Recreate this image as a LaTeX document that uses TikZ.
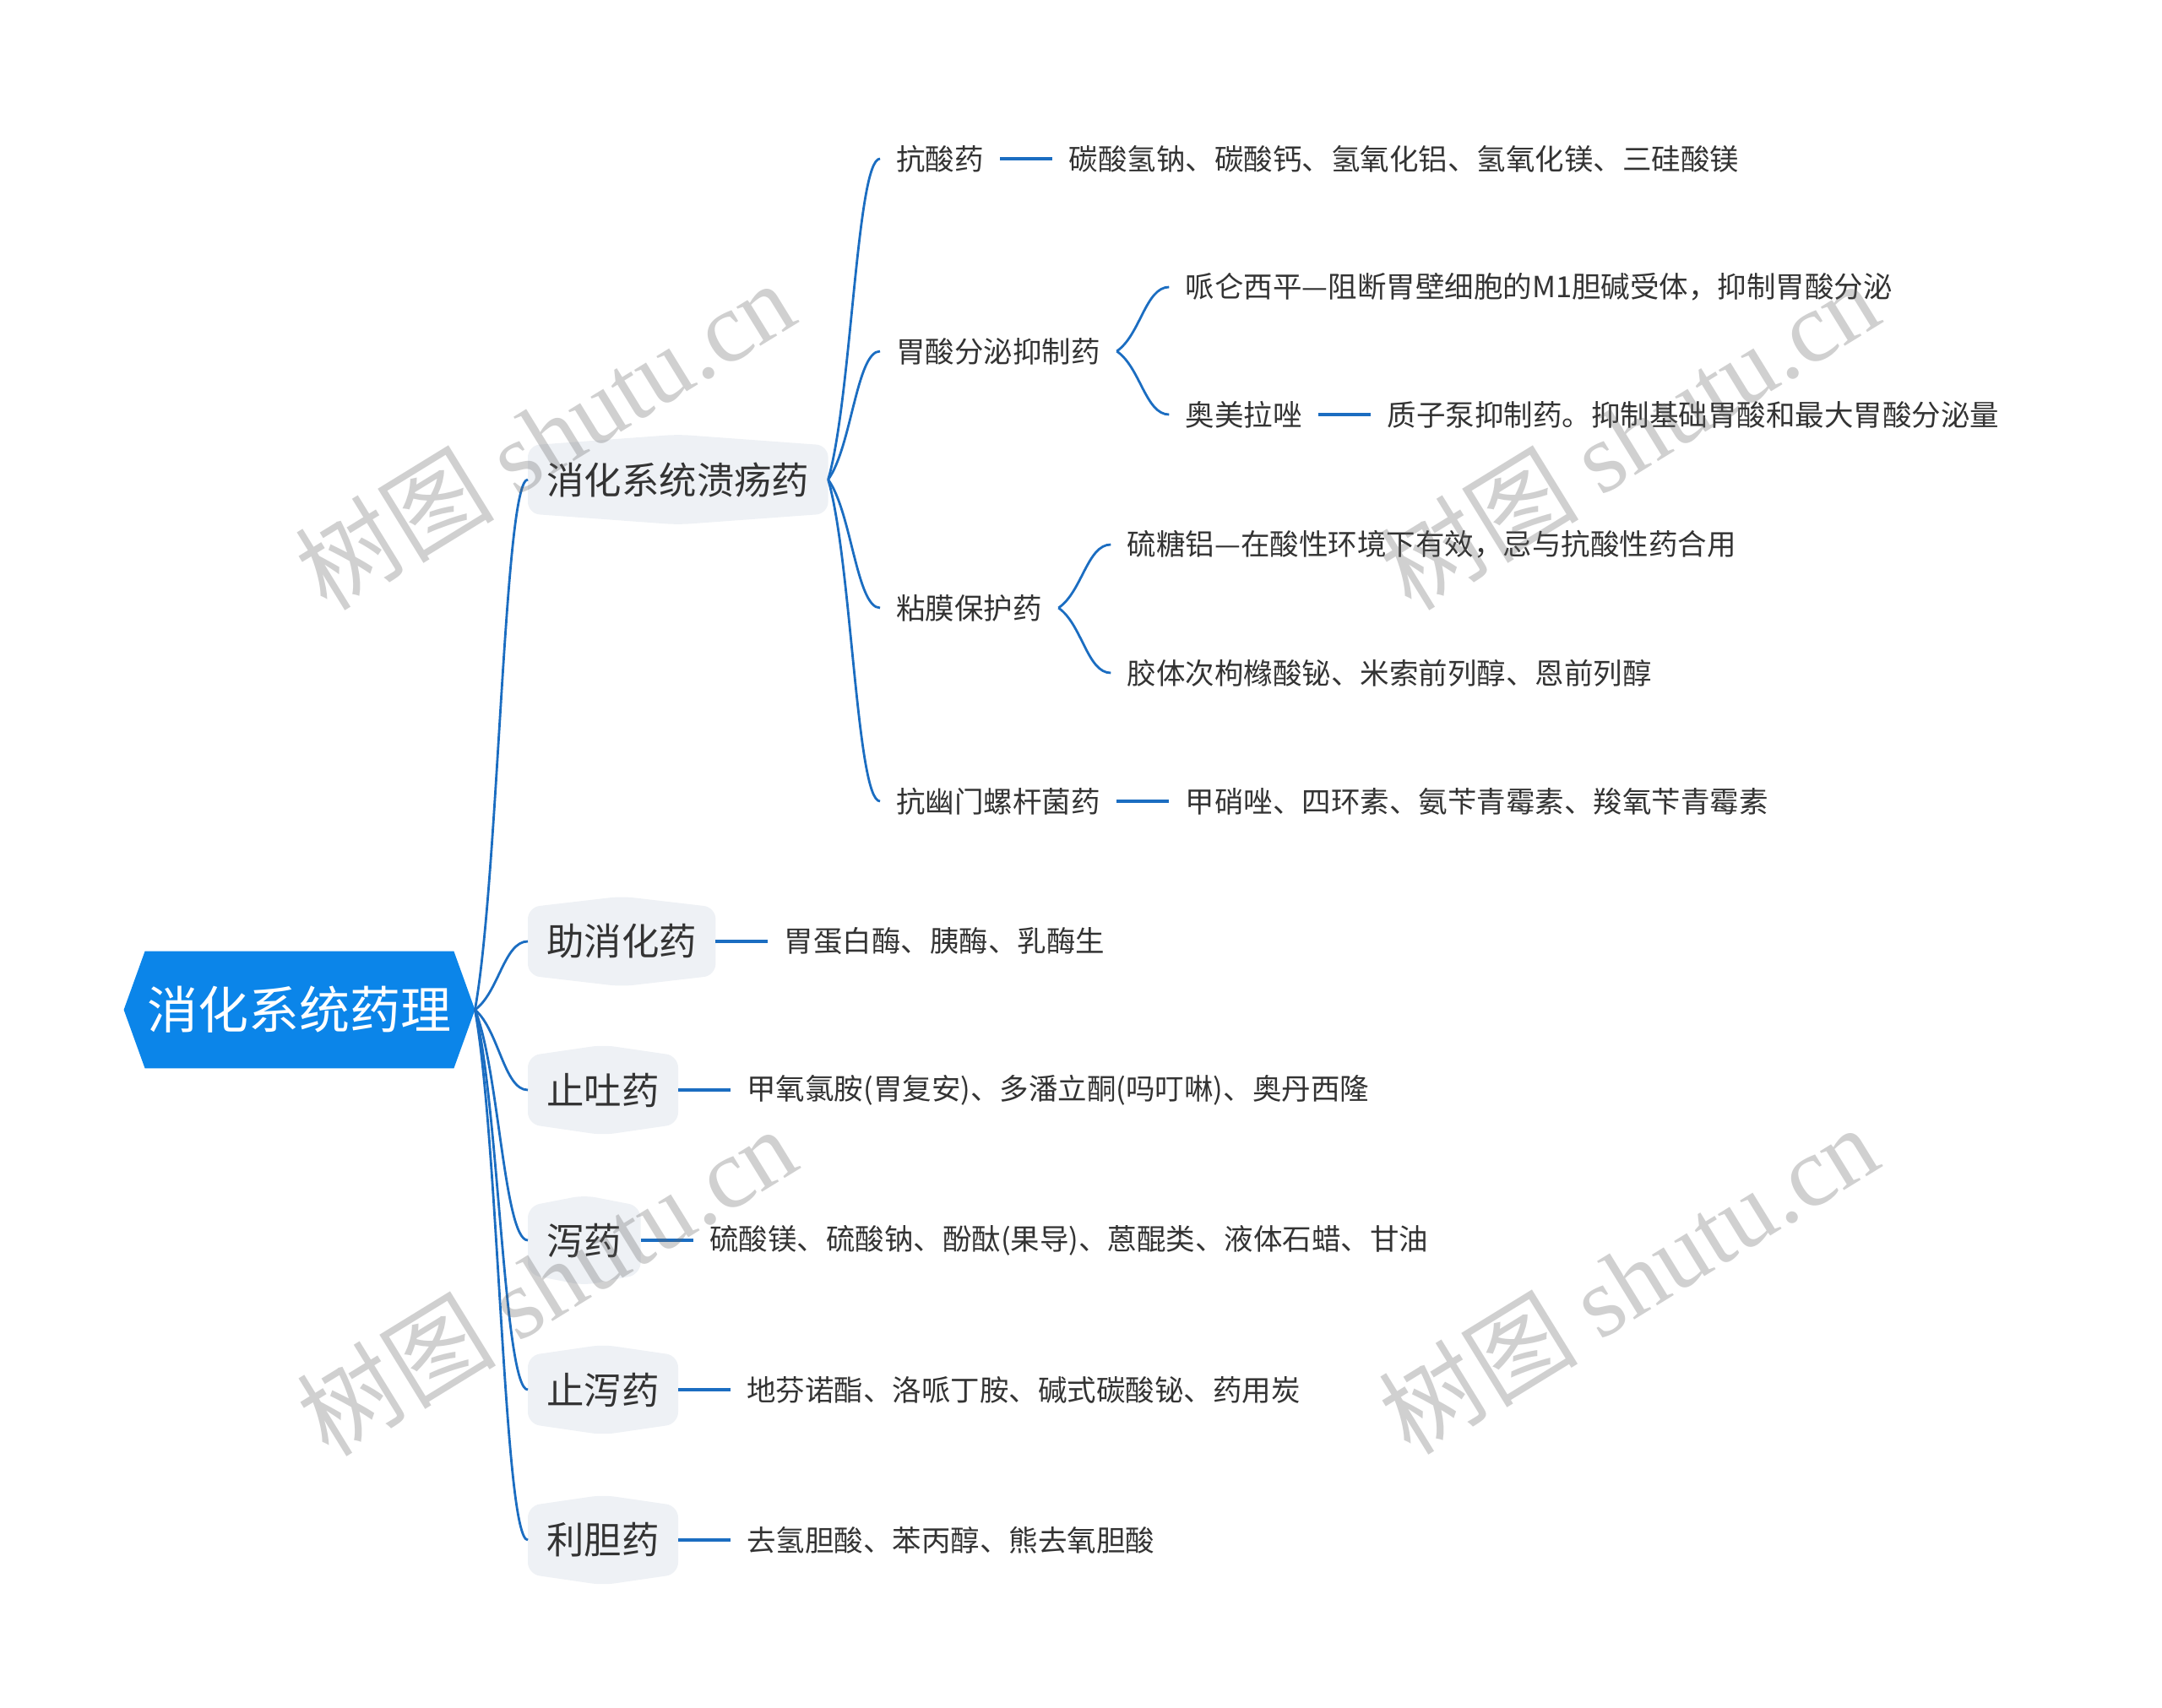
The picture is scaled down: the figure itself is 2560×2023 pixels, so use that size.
\documentclass[tikz,border=0pt]{standalone}
\usepackage{fontspec}
\setmainfont{Noto Sans CJK SC}
\newfontfamily\wmserif{Liberation Serif}
\usetikzlibrary{positioning, calc, backgrounds}
\definecolor{rootblue}{HTML}{0B85E9}
\definecolor{branchblue}{HTML}{1B6DC1}
\definecolor{catfill}{HTML}{EEF1F5}
\definecolor{inktext}{HTML}{333333}
\definecolor{markgrey}{HTML}{646464}
\tikzset{
  rootnode/.style={rectangle, inner xsep=0pt, minimum width=182.5pt, minimum height=69pt,
                   text=white, font=\fontsize{30}{30}\selectfont},
  catbox/.style={rectangle, inner xsep=11pt, minimum height=40pt,
                 text=inktext, font=\fontsize{22.2}{22.2}\selectfont},
  itemtext/.style={rectangle, inner xsep=9.5pt, inner ysep=4pt,
                   text=inktext, font=\fontsize{17.25}{17.5}\selectfont},
  catshape/.style={fill=catfill, rounded corners=7pt},
  spine/.style={draw=branchblue, line width=1.4pt},
  stem/.style={draw=branchblue, line width=1.6pt},
  watermark/.style={text=markgrey, opacity=0.3, rotate=31.6,
                    font=\fontsize{59}{59}\selectfont},
}

\begin{document}
\begin{tikzpicture}[x=0.5pt, y=-0.5pt]
  \useasboundingbox (0,0) rectangle (2560,2023);

  % --- Root ---
  \node[rootnode] (root) at (354.5,1196) {消化系统药理};
  \coordinate (rootL) at ([xshift=-12.5pt]root.west);
  \coordinate (rootR) at ([xshift=12.5pt]root.east);

  % --- Main branches ---
  \node[catbox, anchor=west] (ulcer)  at (625,568)  {消化系统溃疡药};
  \node[catbox, anchor=west] (digest) at (625,1115) {助消化药};
  \node[catbox, anchor=west] (emesis) at (625,1291) {止吐药};
  \node[catbox, anchor=west] (laxat)  at (625,1469) {泻药};
  \node[catbox, anchor=west] (diarr)  at (625,1646) {止泻药};
  \node[catbox, anchor=west] (chola)  at (625,1824) {利胆药};

  \node[itemtext, right=31pt of digest] (digestL) {胃蛋白酶、胰酶、乳酶生};
  \node[itemtext, right=31pt of emesis] (emesisL) {甲氧氯胺(胃复安)、多潘立酮(吗叮啉)、奥丹西隆};
  \node[itemtext, right=31pt of laxat]  (laxatL)  {硫酸镁、硫酸钠、酚酞(果导)、蒽醌类、液体石蜡、甘油};
  \node[itemtext, right=31pt of diarr]  (diarrL)  {地芬诺酯、洛哌丁胺、碱式碳酸铋、药用炭};
  \node[itemtext, right=31pt of chola]  (cholaL)  {去氢胆酸、苯丙醇、熊去氧胆酸};

  % --- Ulcer drugs ---
  \node[itemtext, anchor=west] (antacid) at (1042,188) {抗酸药};
  \node[itemtext, anchor=west] (gastric) at (1042,416) {胃酸分泌抑制药};
  \node[itemtext, anchor=west] (mucosa)  at (1042,720) {粘膜保护药};
  \node[itemtext, anchor=west] (hpylori) at (1042,949) {抗幽门螺杆菌药};

  \node[itemtext, right=31pt of antacid] (antacidL) {碳酸氢钠、碳酸钙、氢氧化铝、氢氧化镁、三硅酸镁};
  \node[itemtext, right=31pt of gastric, yshift=38pt]    (pirenz)  {哌仑西平—阻断胃壁细胞的M1胆碱受体，抑制胃酸分泌};
  \node[itemtext, right=31pt of gastric, yshift=-37.5pt] (omepr)   {奥美拉唑};
  \node[itemtext, right=31pt of omepr]                   (omeprL)  {质子泵抑制药。抑制基础胃酸和最大胃酸分泌量};
  \node[itemtext, right=31pt of mucosa, yshift=37.5pt]   (sucral)  {硫糖铝—在酸性环境下有效，忌与抗酸性药合用};
  \node[itemtext, right=31pt of mucosa, yshift=-38.5pt]  (bismuth) {胶体次枸橼酸铋、米索前列醇、恩前列醇};
  \node[itemtext, right=31pt of hpylori] (hpyloriL) {甲硝唑、四环素、氨苄青霉素、羧氧苄青霉素};

  % --- Shapes behind the texts ---
  \begin{scope}[on background layer]
    \fill[rootblue] (rootL) -- (root.north west) -- (root.north east) -- (rootR)
      -- (root.south east) -- (root.south west) -- cycle;
    \foreach \n in {ulcer,digest,emesis,laxat,diarr,chola}
      \fill[catshape] (\n.south west) -- (\n.north west) -- ([yshift=6.5pt]\n.north)
        -- (\n.north east) -- (\n.south east) -- ([yshift=-6.5pt]\n.south) -- cycle;
  \end{scope}

  % --- Curved connectors ---
  \foreach \a/\b in {rootR/ulcer, rootR/digest, rootR/emesis, rootR/laxat, rootR/diarr, rootR/chola,
                     ulcer.east/antacid, ulcer.east/gastric, ulcer.east/mucosa, ulcer.east/hpylori,
                     gastric.east/pirenz, gastric.east/omepr, mucosa.east/sucral, mucosa.east/bismuth}
    \draw[spine] let \p1=(\a), \p2=(\b.west) in
      (\p1) .. controls ({\x1+0.45*(\x2-\x1)},{\y1+0.25*(\y2-\y1)})
                    and ({\x1+0.55*(\x2-\x1)},{\y2}) .. (\p2);

  % --- Straight connectors ---
  \foreach \a/\b in {digest/digestL, emesis/emesisL, laxat/laxatL, diarr/diarrL, chola/cholaL,
                     antacid/antacidL, omepr/omeprL, hpylori/hpyloriL}
    \draw[stem] (\a) -- (\b);

  % --- Watermarks ---
  \node[watermark] (wm1) at (645,515)   {树图 {\wmserif shutu.cn}};
  \node[watermark] (wm2) at (1929,515)  {树图 {\wmserif shutu.cn}};
  \node[watermark] (wm3) at (647,1517)  {树图 {\wmserif shutu.cn}};
  \node[watermark] (wm4) at (1928,1515) {树图 {\wmserif shutu.cn}};
\end{tikzpicture}
\end{document}
